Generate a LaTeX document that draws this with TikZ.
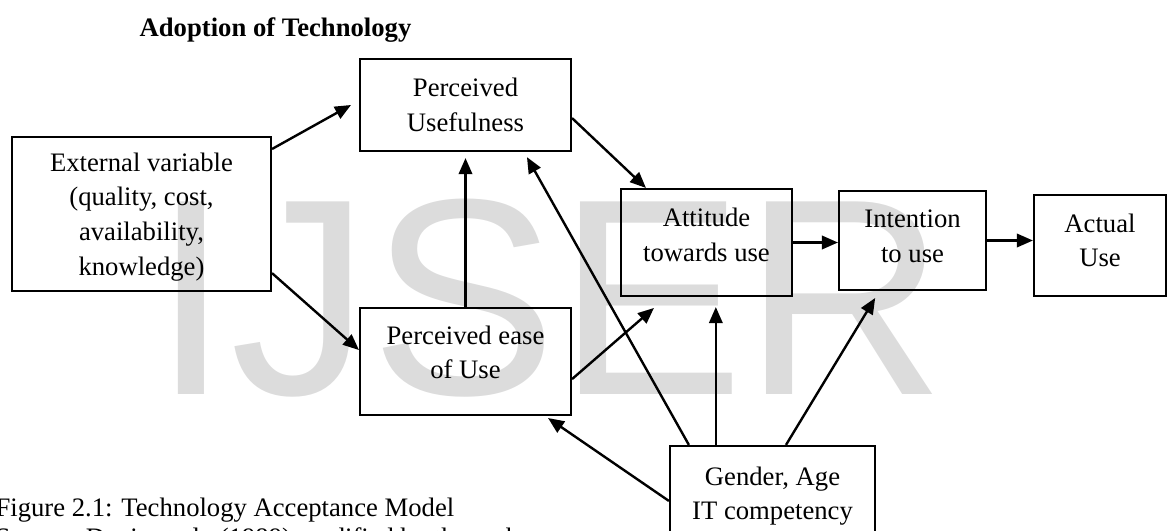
\documentclass[tikz,border=0pt]{standalone}
\usepackage{fontspec}
\setmainfont{Liberation Serif}
\newfontfamily\markfont{Liberation Sans}
\usetikzlibrary{arrows.meta, positioning}
\definecolor{markgray}{RGB}{220,220,220}

\begin{document}
\begin{tikzpicture}[x=0.375pt, y=-0.375pt,
	block/.style={draw, line width=0.8pt, align=center, inner sep=2pt, font=\fontsize{10}{13}\selectfont},
	arr/.style={-{Triangle[length=6pt,width=5pt]}, line width=0.9pt},
	caption/.style={anchor=base west, inner sep=0pt, font=\fontsize{10}{12}\selectfont}]

	\useasboundingbox (0,0) rectangle (1170,531);
	\clip (0,0) rectangle (1170,531);

	% watermark behind everything
	\node[anchor=base west, inner sep=0pt, text=markgray, font=\markfont\fontsize{105}{105}\selectfont] (mark) at (152,394) {IJSER};

	\node[anchor=base, inner sep=0pt, font=\bfseries\fontsize{10}{12}\selectfont] (title) at (275.5,37) {Adoption of Technology};

	\node[block, minimum width=97.1pt, minimum height=57.75pt, text depth=0pt] (ext) at (141.5,214) {External variable\\(quality, cost,\\availability,\\knowledge)};
	\node[block, minimum width=79.1pt, minimum height=34.5pt] (pu) at (465.5,105) {Perceived\\Usefulness};
	\node[block, minimum width=79.1pt, minimum height=40.1pt, text depth=7pt] (peu) at (465.5,361.5) {Perceived ease\\of Use};
	\node[block, minimum width=64.1pt, minimum height=40.1pt, text depth=6pt] (att) at (706.5,242.5) {Attitude\\towards use};
	\node[block, minimum width=55.1pt, minimum height=37.1pt, text depth=3.4pt] (int) at (912.5,240.5) {Intention\\to use};
	\node[block, minimum width=49.5pt, minimum height=37.9pt, text depth=4pt] (act) at (1100,245.5) {Actual\\Use};
	\node[block, minimum width=76.9pt, minimum height=37.5pt] (gen) at (772.5,496) {Gender, Age\\IT competency};

	\node[caption] (cap1) at (-5,516) {Figure 2.1: Technology Acceptance Model};
	\node[caption] (cap2) at ([yshift=-11.25pt]cap1.base west) {Source: Davis et al., (1989) modified by the author};

	\coordinate (g2) at ([xshift=17.6pt]gen.north west);

	\draw[arr] ([yshift=-4.9pt]ext.north east) -- ([xshift=-3pt]pu.west);
	\draw[arr] ([yshift=7.1pt]ext.south east) -- ([yshift=4.3pt]peu.west);
	\draw[arr, shorten >=2.25pt] (peu.north) -- (pu.south);
	\draw[arr] ([yshift=-4.9pt]pu.east) -- ([xshift=9.75pt]att.north west);
	\draw[arr] ([yshift=-6.6pt]peu.east) -- ([xshift=12.75pt,yshift=-4.1pt]att.south west);
	\draw[arr] (att.east) -- (att.east -| int.west);
	\draw[arr] (int.east) -- (int.east -| act.west);
	\draw[arr] ([xshift=7.5pt]gen.north west) -- ([xshift=-16.9pt,yshift=-1.9pt]pu.south east);
	\draw[arr, shorten >=3.75pt] (g2) -- (g2 |- att.south);
	\draw[arr] ([xshift=43.9pt]gen.north west) -- ([xshift=-14pt,yshift=-2.6pt]int.south);
	\draw[arr] ([yshift=-21pt]gen.north west) -- ([xshift=-9pt,yshift=-0.75pt]peu.south east);
\end{tikzpicture}
\end{document}
